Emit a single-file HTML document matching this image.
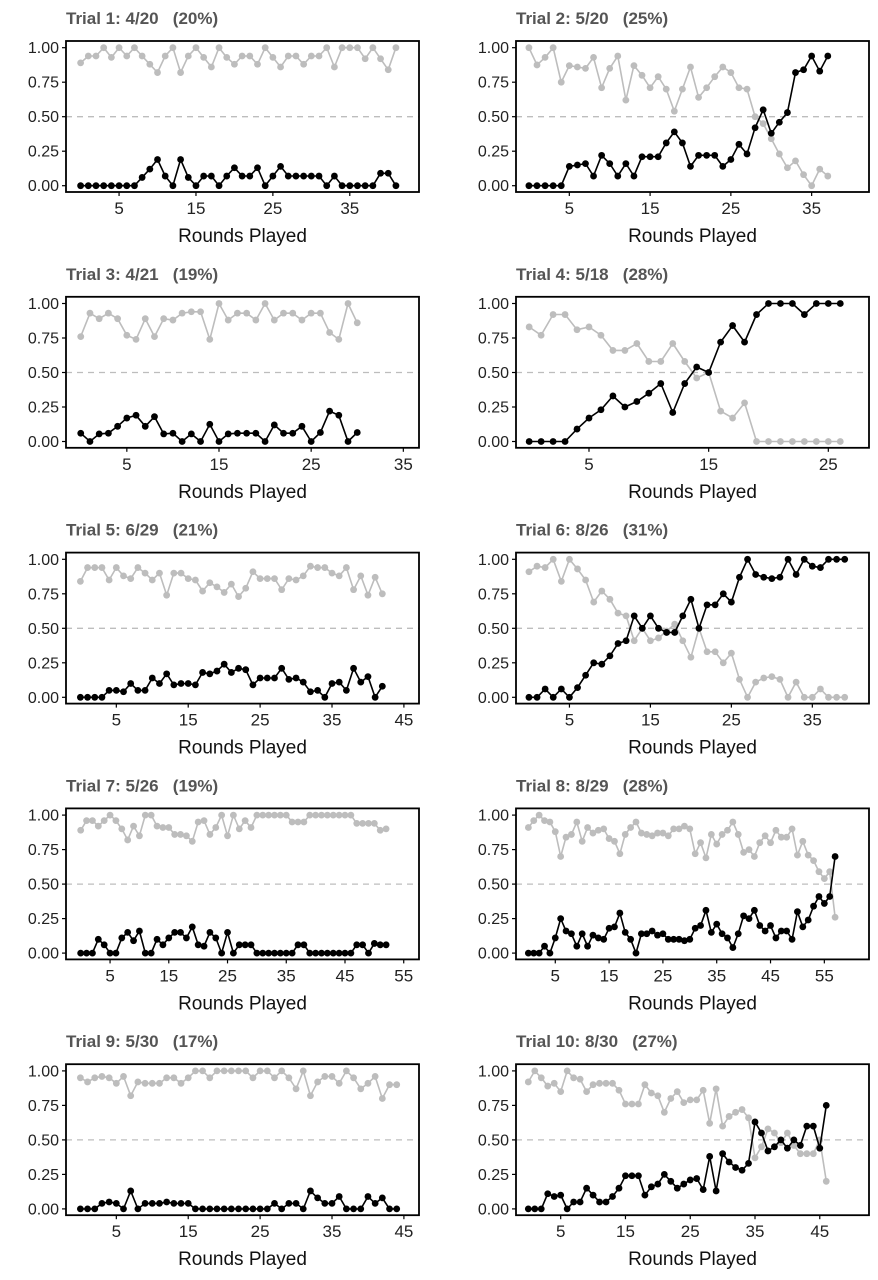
<!DOCTYPE html>
<html><head><meta charset="utf-8"><style>
html,body{margin:0;padding:0;background:#fff;}
svg{display:block;font-family:"Liberation Sans",sans-serif;}
</style></head><body>
<svg id="chart" width="878" height="1280" viewBox="0 0 878 1280" xmlns="http://www.w3.org/2000/svg"></svg>
<script>
const titles=["Trial 1: 4/20","Trial 2: 5/20","Trial 3: 4/21","Trial 4: 5/18","Trial 5: 6/29","Trial 6: 8/26","Trial 7: 5/26","Trial 8: 8/29","Trial 9: 5/30","Trial 10: 8/30"];
const pcts=["(20%)","(25%)","(19%)","(28%)","(21%)","(31%)","(19%)","(28%)","(17%)","(27%)"];
const yTicks=[0,0.25,0.5,0.75,1];
const yTickLabels=["0.00","0.25","0.50","0.75","1.00"];
const xTicks=[[5,15,25,35],[5,15,25,35],[5,15,25,35],[5,15,25],[5,15,25,35,45],[5,15,25,35],[5,15,25,35,45,55],[5,15,25,35,45,55],[5,15,25,35,45],[5,15,25,35,45]];
const xDomains=[[-1.9,44],[-1.6,42.1],[-1.6,36.7],[-1.1,28.4],[-2,47.1],[-1.6,42],[-2.5,57.6],[-2.3,63.3],[-2,47.1],[-1.9,52.6]];
const gray1=[.89,.94,.94,1,.93,1,.94,1,.94,.88,.82,.94,1,.82,.94,1,.93,.86,1,.93,.88,.94,.94,.88,1,.93,.86,.94,.94,.88,.94,.94,1,.86,1,1,1,.92,1,.92,.84,1];
const black1=[0,0,0,0,0,0,0,0,.06,.12,.19,.07,0,.19,.06,0,.07,.07,0,.07,.13,.07,.07,.13,0,.07,.14,.07,.07,.07,.07,.07,0,.07,0,0,0,0,0,.09,.09,0];
const gray2=[1,.875,.93,1,.75,.87,.86,.85,.93,.71,.85,.94,.62,.87,.8,.71,.79,.7,.54,.7,.86,.64,.71,.79,.86,.82,.71,.7,.5,.45,.34,.23,.13,.18,.08,0,.12,.07];
const black2=[0,0,0,0,0,.14,.15,.16,.07,.22,.16,.07,.16,.07,.21,.21,.21,.31,.39,.31,.14,.22,.22,.22,.14,.19,.3,.23,.42,.55,.38,.46,.53,.82,.84,.94,.83,.94];
const gray3=[.76,.93,.89,.93,.89,.77,.74,.89,.76,.89,.88,.93,.94,.94,.74,1,.88,.93,.93,.88,1,.88,.93,.93,.88,.93,.93,.79,.74,1,.86];
const black3=[.06,0,.055,.06,.11,.17,.19,.11,.18,.055,.06,0,.055,0,.125,0,.055,.06,.06,.06,0,.12,.06,.06,.11,0,.065,.22,.19,0,.065];
const gray4=[.83,.77,.92,.92,.81,.83,.77,.66,.66,.71,.58,.58,.71,.58,.46,.5,.22,.17,.28,0,0,0,0,0,0,0,0];
const black4=[0,0,0,0,.09,.17,.23,.33,.25,.29,.35,.42,.21,.42,.54,.5,.72,.84,.72,.92,1,1,1,.92,1,1,1];
const gray5=[.84,.94,.94,.94,.85,.94,.88,.86,.94,.9,.85,.9,.74,.9,.9,.86,.85,.77,.83,.8,.76,.82,.73,.79,.91,.86,.86,.86,.78,.86,.85,.88,.95,.94,.94,.9,.88,.94,.78,.88,.74,.87,.75];
const black5=[0,0,0,0,.05,.05,.04,.1,.05,.05,.14,.1,.17,.09,.1,.1,.09,.18,.17,.19,.24,.18,.21,.2,.09,.14,.14,.14,.21,.13,.14,.11,.04,.05,0,.1,.11,.05,.21,.11,.15,0,.08];
const gray6=[.91,.95,.94,1,.84,1,.93,.85,.69,.77,.71,.61,.59,.41,.5,.41,.43,.48,.53,.41,.29,.5,.33,.33,.25,.32,.13,0,.11,.14,.15,.13,0,.11,0,0,.06,0,0,0];
const black6=[0,0,.06,0,.06,0,.07,.16,.25,.24,.3,.39,.41,.59,.5,.59,.5,.47,.47,.59,.71,.5,.67,.67,.75,.69,.87,1,.89,.87,.86,.87,1,.89,1,.95,.94,1,1,1];
const gray7=[.89,.96,.96,.92,.96,1,.96,.9,.82,.92,.85,1,1,.92,.91,.91,.86,.86,.85,.81,.95,.96,.86,.91,1,.85,1,.9,.96,.91,1,1,1,1,1,1,.95,.95,.95,1,1,1,1,1,1,1,1,.94,.94,.94,.94,.89,.9];
const black7=[0,0,0,.1,.06,0,0,.11,.15,.09,.16,0,0,.1,.06,.11,.15,.15,.11,.19,.06,.05,.15,.11,0,.15,0,.06,.06,.06,0,0,0,0,0,0,0,.06,.06,0,0,0,0,0,0,0,0,.06,.06,0,.07,.06,.06];
const gray8=[.91,.96,1,.96,.95,.88,.7,.84,.86,.95,.81,.91,.87,.89,.9,.83,.81,.72,.86,.91,.95,.87,.86,.85,.87,.87,.85,.9,.9,.92,.9,.72,.8,.69,.86,.79,.86,.89,.95,.86,.73,.75,.7,.8,.85,.8,.89,.84,.84,.9,.71,.81,.71,.67,.59,.54,.59,.26];
const black8=[0,0,0,.05,0,.11,.25,.16,.14,.05,.14,.05,.13,.11,.1,.18,.19,.29,.15,.1,0,.14,.14,.16,.13,.14,.1,.1,.1,.09,.1,.18,.2,.31,.15,.21,.14,.11,.04,.14,.27,.25,.31,.2,.16,.2,.11,.16,.16,.1,.3,.19,.24,.34,.41,.36,.41,.7];
const gray9=[.95,.92,.95,.96,.95,.91,.96,.82,.92,.91,.91,.91,.95,.95,.91,.95,1,1,.95,1,1,1,1,1,.95,1,1,.95,1,.95,.87,1,.82,.92,.96,.96,.91,1,.95,.87,.91,.96,.8,.9,.9];
const black9=[0,0,0,.04,.05,.04,0,.13,0,.04,.04,.04,.05,.04,.04,.04,0,0,0,0,0,0,0,0,0,0,0,.04,0,.04,.04,0,.13,.08,.04,.04,.09,0,0,0,.09,.04,.08,0,0];
const gray10=[.92,1,.95,.89,.91,.85,1,.95,.94,.85,.9,.91,.91,.91,.86,.76,.76,.76,.9,.84,.82,.7,.8,.85,.77,.79,.79,.86,.62,.87,.6,.67,.7,.72,.66,.37,.45,.58,.55,.48,.55,.46,.4,.4,.4,.5,.2];
const black10=[0,0,0,.11,.09,.1,0,.05,.05,.15,.1,.05,.05,.09,.15,.24,.24,.24,.1,.16,.18,.25,.2,.15,.18,.21,.22,.14,.38,.13,.4,.34,.3,.28,.33,.63,.55,.42,.45,.5,.44,.5,.46,.6,.6,.44,.75];
const grays=[gray1,gray2,gray3,gray4,gray5,gray6,gray7,gray8,gray9,gray10];
const blacks=[black1,black2,black3,black4,black5,black6,black7,black8,black9,black10];

const NS="http://www.w3.org/2000/svg";
const svg=document.getElementById('chart');
function mk(tag,attrs,parent){const e=document.createElementNS(NS,tag);for(const k in attrs)e.setAttribute(k,attrs[k]);(parent||svg).appendChild(e);return e;}

for(let p=0;p<10;p++){
  const col=p%2,row=Math.floor(p/2);
  const L=col?516:66,R=col?869:419;
  const T=41+row*255.8,B=T+151;
  const y0=T+144.7,y1=T+6.7;
  const [d0,d1]=xDomains[p];
  const xs=v=>L+(v-d0)/(d1-d0)*(R-L);
  const ys=v=>y0+(y1-y0)*v;
  const g=mk('g',{});
  
  
  const t=mk('text',{x:L,y:T-17,'font-size':17,'font-weight':'bold',fill:'#555'},g);
  
  
  t.textContent=titles[p]+'\u00a0\u00a0\u00a0'+pcts[p];
  // dashed line
  const dl=mk('line',{x1:L,x2:R,y1:ys(0.5),y2:ys(0.5),stroke:'#bdbdbd','stroke-width':1.3,'stroke-dasharray':'6,5'},g);
  
  
  // y ticks
  yTicks.forEach((v,i)=>{
    mk('line',{x1:L-4,x2:L,y1:ys(v),y2:ys(v),stroke:'#000','stroke-width':1.2},g);
    const tl=mk('text',{x:L-7,y:ys(v)+5.5,'font-size':16,'text-anchor':'end',fill:'#222'},g);
    
    
    tl.textContent=yTickLabels[i];
  });
  xTicks[p].forEach(v=>{
    mk('line',{x1:xs(v),x2:xs(v),y1:B,y2:B+4,stroke:'#000','stroke-width':1.2},g);
    const tl=mk('text',{x:xs(v),y:B+22,'font-size':17,'text-anchor':'middle',fill:'#222'},g);
    
    
    tl.textContent=v;
  });
  const at=mk('text',{x:(L+R)/2,y:B+50,'font-size':19,'text-anchor':'middle',fill:'#111'},g);
  
  
  at.textContent='Rounds Played';
  [[grays[p],'#bdbdbd','gray-series'],[blacks[p],'#000','black-series']].forEach(([arr,c,nm])=>{
    const s=mk('g',{},g);
    
    
    const pts=arr.map((v,i)=>xs(i).toFixed(1)+','+ys(v).toFixed(1)).join(' ');
    mk('polyline',{points:pts,fill:'none',stroke:c,'stroke-width':1.6},s);
    arr.forEach((v,i)=>{
      const pt=mk('circle',{cx:xs(i),cy:ys(v),r:3.4,fill:c},s);
      
      
    });
  });
  const box=mk('rect',{x:L,y:T,width:R-L,height:B-T,fill:'none',stroke:'#000','stroke-width':1.8},g);
  
  
}
</script>
</body></html>
